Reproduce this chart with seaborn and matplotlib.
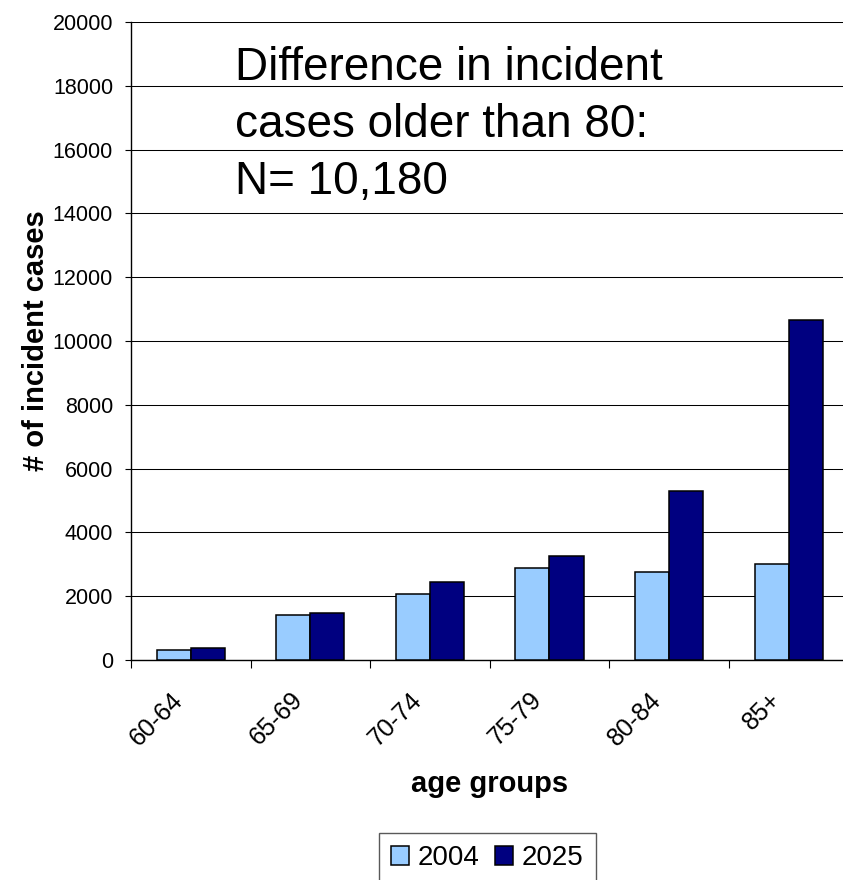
import matplotlib
matplotlib.use("Agg")
import matplotlib.pyplot as plt
import matplotlib.transforms as mtransforms
import seaborn as sns
import pandas as pd
import numpy as np

age_groups = ["60-64", "65-69", "70-74", "75-79", "80-84", "85+"]
cases_2004 = [320, 1410, 2060, 2875, 2760, 3020]
cases_2025 = [380, 1480, 2435, 3270, 5300, 10660]
years = ["2004", "2025"]
colors = ["#99CCFF", "#000080"]
y_ticks = list(range(0, 20001, 2000))
note = "Difference in incident\ncases older than 80:\nN= 10,180"

df = pd.DataFrame({
    "age": age_groups * 2,
    "year": [years[0]] * len(age_groups) + [years[1]] * len(age_groups),
    "cases": cases_2004 + cases_2025,
})

sns.set_style("white")
plt.rcParams["font.family"] = ["Liberation Sans", "DejaVu Sans"]
plt.rcParams["text.color"] = "black"
plt.rcParams["axes.labelcolor"] = "black"
plt.rcParams["xtick.color"] = "black"
plt.rcParams["ytick.color"] = "black"

fig = plt.figure(figsize=(8.43, 8.8), dpi=100)
ax = fig.add_axes([0.1554, 0.25, 0.851, 0.725])

sns.barplot(data=df, x="age", y="cases", hue="year", order=age_groups,
            hue_order=years, palette=colors, saturation=1, width=0.57, gap=0,
            edgecolor="black", linewidth=1.1, ax=ax, legend=True, zorder=3)

ax.set_ylim(0, 20000)
ax.set_xlim(-0.5, 5.5)
ax.set_yticks(y_ticks)
ax.set_yticklabels([str(v) for v in y_ticks], fontsize=15.5)
ax.yaxis.grid(True, color="black", linewidth=0.75, zorder=0)
ax.set_axisbelow(True)
ax.tick_params(axis="y", which="major", left=True, length=4.3, width=0.8,
               color="black", pad=8.6)

ax.set_xticks(range(len(age_groups)))
ax.set_xticklabels(age_groups, rotation=45, ha="right", rotation_mode="anchor",
                   fontsize=18)
ax.tick_params(axis="x", which="major", length=0, pad=20)
shift = mtransforms.ScaledTranslation(-20 / 100, 0, fig.dpi_scale_trans)
for lab in ax.get_xticklabels():
    lab.set_transform(lab.get_transform() + shift)
ax.set_xticks(np.arange(-0.5, len(age_groups), 1.0), minor=True)
ax.tick_params(axis="x", which="minor", bottom=True, length=6, width=0.8,
               color="black")

for side in ["top", "right"]:
    ax.spines[side].set_visible(False)
for side in ["left", "bottom"]:
    ax.spines[side].set_color("black")
    ax.spines[side].set_linewidth(1.0)

ax.set_ylabel("# of incident cases", fontsize=21, fontweight="bold")
ax.yaxis.set_label_coords(-0.113, 0.5)
ax.set_xlabel("age groups", fontsize=21, fontweight="bold")
ax.xaxis.set_label_coords(0.5, -0.172)

ax.text(0.145, 0.963, note, transform=ax.transAxes, fontsize=33,
        va="top", ha="left", linespacing=1.39)

leg = ax.get_legend()
handles = leg.legend_handles
leg.remove()
fig.legend(handles, years, loc="center", bbox_to_anchor=(0.578, 0.025),
           ncol=2, fontsize=20, frameon=True, fancybox=False,
           edgecolor="#303030", handlelength=0.65, handleheight=0.65,
           handletextpad=0.3, columnspacing=0.55, borderpad=0.45)
fig.legends[0].get_frame().set_linewidth(1.0)

fig.savefig("out.png", dpi=100)
